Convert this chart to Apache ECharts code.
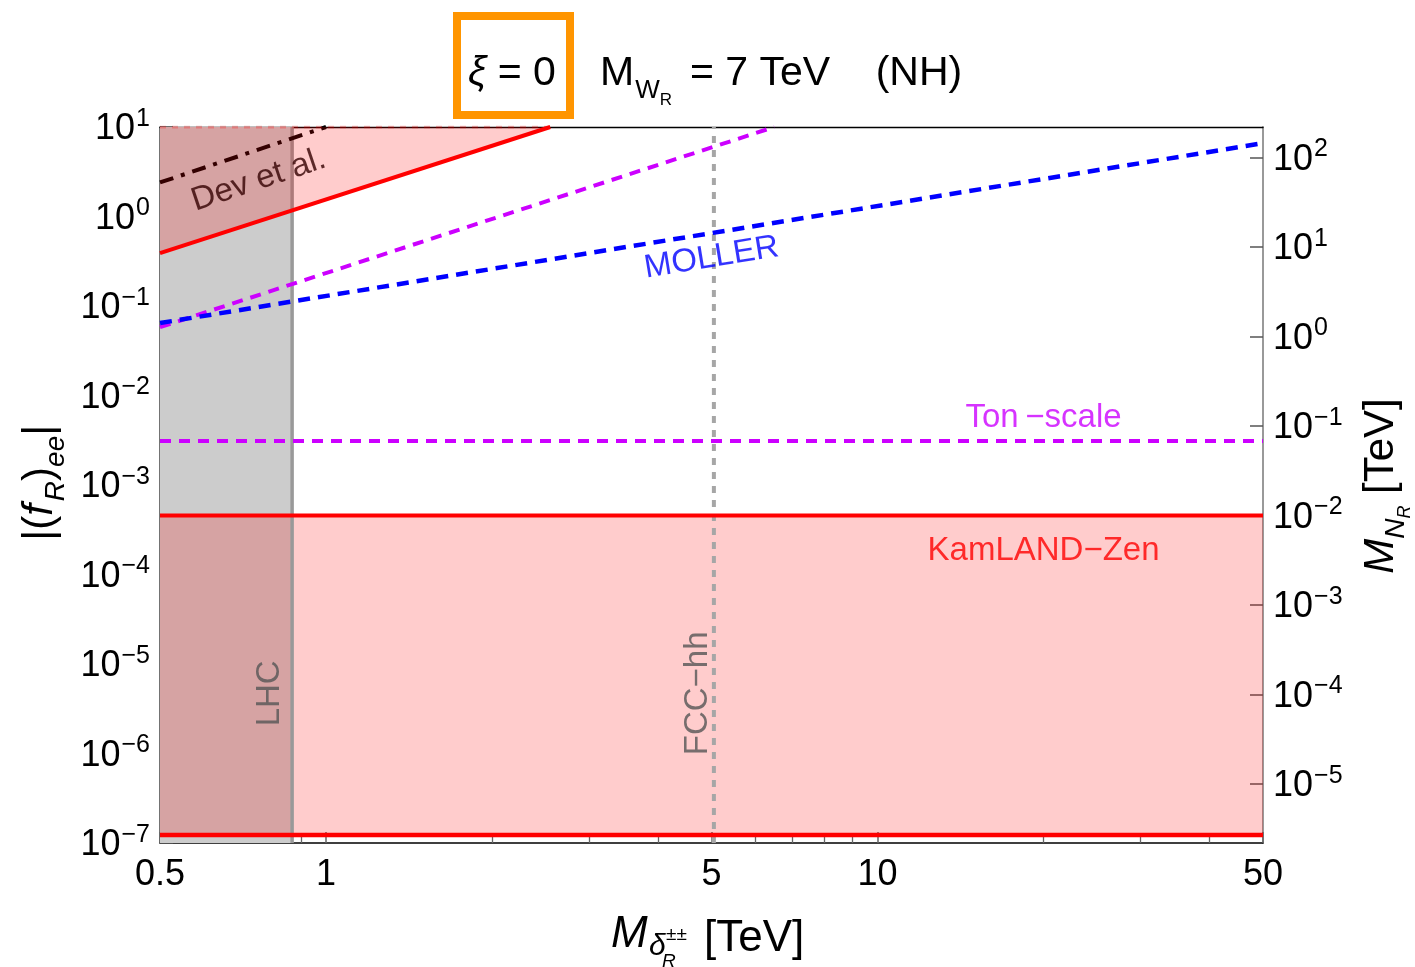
<!DOCTYPE html>
<html><head><meta charset="utf-8">
<script src="https://cdn.jsdelivr.net/npm/echarts@6/dist/echarts.min.js"></script>
<style>html,body{margin:0;padding:0;background:#fff}#c{width:1415px;height:967px}</style>
</head><body><div id="c"></div>
<script>
const FONT = '"Liberation Sans", Arial, sans-serif';

// ---- axes ----
const xRange = [0.5, 50];
const yRange = [1e-7, 10];
const rightAxisLogOffset = 1.34;           // log10(M_N / |f|)
const xMajorTicks = [0.5, 1, 5, 10, 50];
const xMinorTicks = [0.6, 0.7, 0.8, 0.9, 2, 3, 4, 6, 7, 8, 9, 20, 30, 40];
const yTicks = [1e-7, 1e-6, 1e-5, 1e-4, 1e-3, 1e-2, 1e-1, 1, 10];
const yRightTicks = [1e-5, 1e-4, 1e-3, 1e-2, 1e-1, 1, 10, 100];

// ---- data ----
const lhcBoundX = 0.868;
const fccBoundX = 5.05;
const upperBoundX = [0.5, 2.55];     // red solid, excluded above
const upperBoundY = [0.39, 10];
const devX = [0.5, 1.0];             // Dev et al. dash-dot
const devY = [2.4, 10];
const magentaX = [0.5, 6.5];         // magenta dashed sloped
const magentaY = [0.058, 10];
const mollerX = [0.5, 50];           // MOLLER blue dashed
const mollerY = [0.0645, 6.6];
const tonScaleY = 3.1e-3;            // Ton-scale horizontal
const kamlandTop = 4.57e-4;          // KamLAND-Zen band
const kamlandBottom = 1.23e-7;

// ---- annotation texts ----
const annotNames = ['Dev et al.', 'MOLLER', 'Ton\u2009\u2212scale', 'KamLAND\u2212Zen', 'LHC', 'FCC\u2212hh'];
const annotX = [0.755, 5.0, 20, 20, 0.79, 4.72];
const annotY = [2.55, 0.345, 5.6e-3, 1.83e-4, 4.7e-6, 4.7e-6];
const annotRot = [18.5, 9.3, 0, 0, 90, 90];
const annotColor = ['#330000', '#0000FF', '#CC00FF', '#FF0000', '#555555', '#555555'];

function pts(xs, ys) { return xs.map((x, i) => [x, ys[i]]); }
function powLabel(v) {
  const e = Math.round(Math.log10(v));
  return '{b|10}{s|' + (e < 0 ? '\u2212' + (-e) : e) + '}';
}
const powRich = {
  b: { fontSize: 36, fontFamily: FONT, color: '#000', verticalAlign: 'bottom', padding: [0, 0, 0, 0] },
  s: { fontSize: 25, fontFamily: FONT, color: '#000', verticalAlign: 'bottom', padding: [0, 0, 16, 1] }
};

const rf = Math.pow(10, rightAxisLogOffset);

const chart = echarts.init(document.getElementById('c'), null, { renderer: 'canvas' });

const annotData = annotNames.map((n, i) => ({
  name: n, value: [annotX[i], annotY[i]],
  label: { rotate: annotRot[i], color: annotColor[i] }
}));

const option = {
  animation: false,
  backgroundColor: '#fff',
  grid: { left: 160, right: 152, top: 127, bottom: 124 },
  xAxis: [
    {
      type: 'log', logBase: 10, min: xRange[0], max: xRange[1], position: 'bottom',
      axisLine: { show: true, lineStyle: { color: '#000', width: 1.5 } },
      axisTick: { show: true, inside: true, length: 11, customValues: xMajorTicks, lineStyle: { color: '#666', width: 1.5 } },
      axisLabel: { show: true, customValues: xMajorTicks, margin: 14, fontSize: 36, fontFamily: FONT, color: '#000',
        formatter: v => String(v) },
      splitLine: { show: false }, minorTick: { show: false }
    },
    {
      type: 'log', logBase: 10, min: xRange[0], max: xRange[1], position: 'bottom',
      axisLine: { show: false },
      axisTick: { show: true, inside: true, length: 7, customValues: xMinorTicks, lineStyle: { color: '#666', width: 1.3 } },
      axisLabel: { show: false }, splitLine: { show: false }
    },
    {
      type: 'log', logBase: 10, min: xRange[0], max: xRange[1], position: 'top',
      axisLine: { show: true, lineStyle: { color: '#000', width: 1.3 } },
      axisTick: { show: false }, axisLabel: { show: false }, splitLine: { show: false }
    }
  ],
  yAxis: [
    {
      type: 'log', logBase: 10, min: yRange[0], max: yRange[1], position: 'left',
      axisLine: { show: true, lineStyle: { color: '#444', width: 1.5 } },
      axisTick: { show: true, inside: true, length: 13, customValues: yTicks, lineStyle: { color: '#555', width: 1.5 } },
      axisLabel: { show: true, customValues: yTicks, margin: 10, formatter: powLabel, rich: powRich },
      splitLine: { show: false }
    },
    {
      type: 'log', logBase: 10, min: yRange[0] * rf, max: yRange[1] * rf, position: 'right',
      axisLine: { show: true, lineStyle: { color: '#999', width: 2 } },
      axisTick: { show: true, inside: true, length: 13, customValues: yRightTicks, lineStyle: { color: '#555', width: 1.5 } },
      axisLabel: { show: true, customValues: yRightTicks, margin: 10, formatter: powLabel, rich: powRich },
      splitLine: { show: false }
    }
  ],
  series: [
    { // LHC excluded band
      type: 'line', z: 1, data: [], silent: true,
      markArea: { silent: true, itemStyle: { color: '#CCCCCC', opacity: 1 },
        data: [[{ xAxis: xRange[0] }, { xAxis: lhcBoundX }]] }
    },
    { // LHC boundary
      type: 'line', z: 2, silent: true, showSymbol: false, symbol: 'none',
      data: [[lhcBoundX, yRange[0]], [lhcBoundX, yRange[1]]],
      lineStyle: { color: '#999999', width: 3.5 }
    },
    { // FCC-hh reach
      type: 'line', z: 2, silent: true, showSymbol: false, symbol: 'none',
      data: [[fccBoundX, yRange[0]], [fccBoundX, yRange[1]]],
      lineStyle: { color: '#A6A6A6', width: 4, type: [7, 7] }
    },
    { // Dev et al.
      type: 'line', z: 2, silent: true, showSymbol: false, symbol: 'none',
      data: pts(devX, devY),
      lineStyle: { color: '#000000', width: 4, type: [14, 8, 4, 8] }
    },
    { // KamLAND-Zen band
      type: 'line', z: 3, data: [], silent: true,
      markArea: { silent: true, itemStyle: { color: 'rgba(255,0,0,0.2)', opacity: 1 },
        data: [[{ yAxis: kamlandBottom }, { yAxis: kamlandTop }]] }
    },
    { // upper excluded region
      type: 'line', z: 3, silent: true, showSymbol: false, symbol: 'none',
      data: pts(upperBoundX, upperBoundY),
      lineStyle: { color: '#FF0000', width: 4 },
      areaStyle: { origin: 'end', color: 'rgba(255,0,0,0.2)', opacity: 1 }
    },
    { // faint dashed edge of region at top
      type: 'line', z: 3, silent: true, showSymbol: false, symbol: 'none',
      data: [[upperBoundX[0], yRange[1]], [upperBoundX[1], yRange[1]]],
      lineStyle: { color: 'rgba(255,0,0,0.25)', width: 3, type: [6, 6] }
    },
    { // KamLAND top
      type: 'line', z: 4, silent: true, showSymbol: false, symbol: 'none',
      data: [[xRange[0], kamlandTop], [xRange[1], kamlandTop]],
      lineStyle: { color: '#FF0000', width: 4 }
    },
    { // KamLAND bottom
      type: 'line', z: 4, silent: true, showSymbol: false, symbol: 'none',
      data: [[xRange[0], kamlandBottom], [xRange[1], kamlandBottom]],
      lineStyle: { color: '#FF0000', width: 4.5 }
    },
    { // Ton-scale horizontal
      type: 'line', z: 4, silent: true, showSymbol: false, symbol: 'none',
      data: [[xRange[0], tonScaleY], [xRange[1], tonScaleY]],
      lineStyle: { color: '#CC00FF', width: 4, type: [11, 8] }
    },
    { // magenta sloped
      type: 'line', z: 4, silent: true, showSymbol: false, symbol: 'none',
      data: pts(magentaX, magentaY),
      lineStyle: { color: '#CC00FF', width: 4, type: [11, 8] }
    },
    { // MOLLER
      type: 'line', z: 4, silent: true, showSymbol: false, symbol: 'none',
      data: pts(mollerX, mollerY),
      lineStyle: { color: '#0000FF', width: 4.5, type: [12, 8] }
    },
    { // annotations
      type: 'scatter', z: 5, silent: true, symbolSize: 0, data: annotData,
      label: { show: true, position: 'inside', formatter: p => p.name, fontSize: 33, fontFamily: FONT }
    }
  ],
  graphic: [
    { type: 'rect', z: 10, shape: { x: 457, y: 16, width: 113, height: 99 },
      style: { fill: 'none', stroke: '#FF9500', lineWidth: 8 } },
    { type: 'text', z: 10, x: 512, y: 74,
      style: { text: '{i|\u03BE}{n| = 0}', textAlign: 'center', textVerticalAlign: 'middle',
        rich: { i: { fontSize: 41, fontFamily: FONT, fontStyle: 'italic', fill: '#000' },
                n: { fontSize: 41, fontFamily: FONT, fill: '#000' } } } },
    { type: 'text', z: 10, x: 600, y: 81,
      style: { text: '{m|M}{w|W}{r|R}{e|= 7 TeV    (NH)}', textAlign: 'left', textVerticalAlign: 'middle',
        rich: { m: { fontSize: 41, fontFamily: FONT, fill: '#000', verticalAlign: 'bottom', padding: [0, 0, 14, 0] },
                e: { fontSize: 41, fontFamily: FONT, fill: '#000', verticalAlign: 'bottom', padding: [0, 0, 14, 18] },
                w: { fontSize: 26, fontFamily: FONT, fill: '#000', verticalAlign: 'bottom', padding: [0, 0, 5, 1] },
                r: { fontSize: 17, fontFamily: FONT, fill: '#000', verticalAlign: 'bottom', padding: [0, 0, 0, 0] } } } },
    // left axis name
    { type: 'text', z: 10, x: 45, y: 487, rotation: Math.PI / 2,
      style: { text: '{n|\u2009|(}{f|f}{s|R}{n|)}{e|ee}{n||}', textAlign: 'center', textVerticalAlign: 'middle',
        rich: { n: { fontSize: 42, fontFamily: FONT, fill: '#000', verticalAlign: 'bottom', padding: [0, 0, 9, 0] },
                f: { fontSize: 42, fontFamily: FONT, fontStyle: 'italic', fill: '#000', verticalAlign: 'bottom', padding: [0, 3, 9, 0] },
                s: { fontSize: 28, fontFamily: FONT, fontStyle: 'italic', fill: '#000', verticalAlign: 'bottom', padding: [0, 0, 0, 0] },
                e: { fontSize: 28, fontFamily: FONT, fontStyle: 'italic', fill: '#000', verticalAlign: 'bottom', padding: [0, 0, 0, 0] } } } },
    // right axis name
    { type: 'text', z: 10, x: 1387, y: 486, rotation: Math.PI / 2,
      style: { text: '{m|M}{n|N}{r|R}{t| [TeV]}', textAlign: 'center', textVerticalAlign: 'middle',
        rich: { m: { fontSize: 42, fontFamily: FONT, fontStyle: 'italic', fill: '#000', verticalAlign: 'bottom', padding: [0, 0, 12, 0] },
                n: { fontSize: 28, fontFamily: FONT, fontStyle: 'italic', fill: '#000', verticalAlign: 'bottom', padding: [0, 0, 4, 0] },
                r: { fontSize: 18, fontFamily: FONT, fontStyle: 'italic', fill: '#000', verticalAlign: 'bottom', padding: [0, 0, 0, 0] },
                t: { fontSize: 42, fontFamily: FONT, fill: '#000', verticalAlign: 'bottom', padding: [0, 0, 12, 0] } } } },
    // bottom axis name
    { type: 'text', z: 10, x: 611, y: 957,
      style: { text: 'M', font: 'italic 44px ' + FONT, fill: '#000', textAlign: 'left', textVerticalAlign: 'bottom' } },
    { type: 'text', z: 10, x: 649, y: 962,
      style: { text: '\u03B4', font: 'italic 30px ' + FONT, fill: '#000', textAlign: 'left', textVerticalAlign: 'bottom' } },
    { type: 'text', z: 10, x: 666, y: 944,
      style: { text: '\u00B1\u00B1', font: '19px ' + FONT, fill: '#000', textAlign: 'left', textVerticalAlign: 'bottom' } },
    { type: 'text', z: 10, x: 662, y: 971,
      style: { text: 'R', font: 'italic 19px ' + FONT, fill: '#000', textAlign: 'left', textVerticalAlign: 'bottom' } },
    { type: 'text', z: 10, x: 704, y: 961,
      style: { text: '[TeV]', font: '44px ' + FONT, fill: '#000', textAlign: 'left', textVerticalAlign: 'bottom' } }
  ]
};
chart.setOption(option);
</script>
</body></html>
